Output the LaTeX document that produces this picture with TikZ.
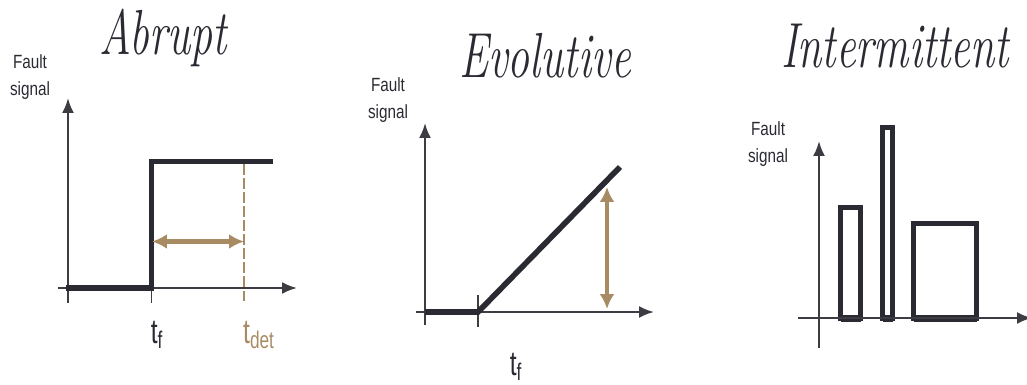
\documentclass[tikz,border=0pt]{standalone}
\usepackage{fontspec}
\newfontfamily\labfont{Liberation Sans}
\usetikzlibrary{arrows.meta, positioning}
\definecolor{sigdark}{HTML}{2A2A33}
\definecolor{axisgray}{HTML}{3C3C42}
\definecolor{delaytan}{HTML}{A88B63}
\tikzset{
	axis/.style={
		-{Latex[length=3mm, width=2.4mm]},
		line width=1.3pt,
		draw=axisgray
	},
	signal/.style={
		line width=3.2pt,
		draw=sigdark
	},
	delay/.style={
		{Latex[length=3mm, width=3mm]}-{Latex[length=3mm, width=3mm]},
		line width=2.5pt,
		draw=delaytan
	},
	tickline/.style={
		line width=0.9pt,
		draw=axisgray
	},
	heading/.style={
		font=\fontsize{25}{30}\selectfont\itshape,
		text=sigdark,
		inner sep=0pt,
		anchor=base,
		yscale=1.45,
		transform shape
	},
	ylabel/.style={
		font=\labfont\fontsize{8.7}{12}\selectfont,
		text=sigdark,
		align=center,
		inner sep=0pt,
		anchor=base,
		yscale=1.25,
		transform shape
	},
	tlabel/.style={
		font=\labfont\fontsize{14}{16}\selectfont,
		text=sigdark,
		inner sep=0pt,
		anchor=base,
		yscale=1.4,
		transform shape
	}
}

\begin{document}
\begin{tikzpicture}[x=0.02cm, y=-0.02cm, >=latex]
		\useasboundingbox (0,0) rectangle (1027,385);
		
		% Abrupt
		\node[heading] (abrupt) at (163,55) {Abrupt};
		\node[ylabel] (ylabA) at (30,95) {Fault\\signal};
		\draw[axis] (68,303) -- (68,98);
		\draw[axis] (58,288) -- (297,288);
		\draw[tickline] (151.5,288) -- (151.5,303);
		\draw[signal] (66,288) -- (151.5,288) -- (151.5,161.5) -- (273,161.5);
		\draw[delaytan, line width=0.8pt, dash pattern=on 6pt off 2pt] (244,164) -- (244,303);
		\draw[delay] (152,241.5) -- (244,241.5);
		\node[tlabel] (tfA) at (157,343) {t\textsubscript{f}};
		\node[tlabel, text=delaytan] (tdetA) at (259,343) {t\textsubscript{det}};
		
		% Evolutive
		\node[heading] (evolutive) at (545,78) {Evolutive};
		\node[ylabel] (ylabE) at (388,118) {Fault\\signal};
		\draw[axis] (425,325) -- (425,123);
		\draw[axis] (416,312) -- (654,312);
		\draw[tickline] (478,295) -- (478,327);
		\draw[signal] (425,312) -- (478,312) -- (620,167);
		\draw[delay] (607,187) -- (607,309);
		\node[tlabel] (tfE) at (516,375) {t\textsubscript{f}};
		
		% Intermittent
		\node[heading] (intermittent) at (895,68) {Intermittent};
		\node[ylabel] (ylabI) at (768,162) {Fault\\signal};
		\draw[axis] (819,348) -- (819,141);
		\draw[signal] (840.5,318) rectangle (860.5,207.5);
		\draw[signal] (882.5,318) rectangle (892.5,127.5);
		\draw[signal] (913.5,318) rectangle (976.5,223.5);
		\draw[signal, line width=2.4pt] (840.5,320) -- (860.5,320) (882.5,320) -- (892.5,320) (913.5,320) -- (976.5,320);
		\draw[axis] (798,318) -- (1032,318);
		
	\end{tikzpicture}
\end{document}
